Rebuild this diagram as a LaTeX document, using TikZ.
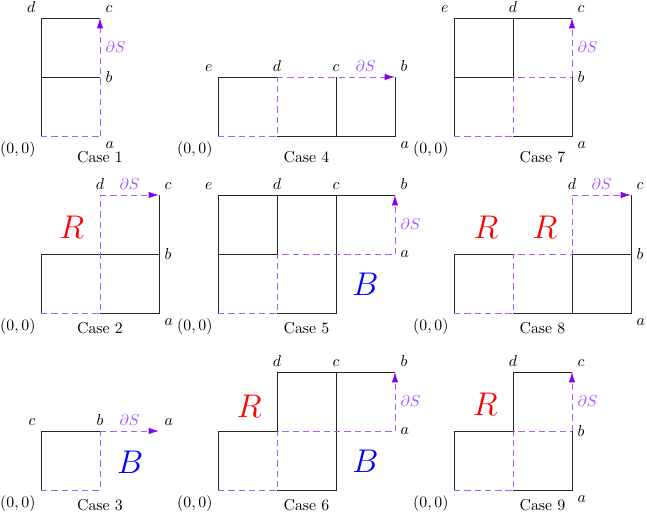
\documentclass[tikz,border=0pt]{standalone}
\usepackage{amsmath,amssymb}
\usepackage{tikz}
\usepackage{xcolor}
\usetikzlibrary{arrows.meta}
\definecolor{bdry}{RGB}{128,0,255}

\begin{document}
\begin{tikzpicture}[x=1.31cm,y=1.31cm,
  edge/.style={black!85,line width=0.5pt},
  bd/.style={dash pattern=on 4pt off 2.5pt,draw=bdry!65,line width=0.5pt},
  bdarrow/.style={bd,-{Latex[color=bdry,length=6.5pt,width=4pt]}},
  dS/.style={text=bdry!70},
  red set/.style={text=red,font=\huge},
  blue set/.style={text=blue,font=\huge}]
  \useasboundingbox (-0.695,-6.407) rectangle (10.271,2.305);

  % Case 1
  \begin{scope}
    \draw[edge] (0,0) -- (0,2) -- (1,2) (0,1) -- (1,1);
    \draw[bd] (0,0) -- (1,0);
    \draw[bdarrow] (1,0) -- (1,2);
    \node[below left] (o1) at (0,0) {$(0,0)$};
    \node[below right] (a1) at (1,0) {$a$};
    \node[right] (b1) at (1,1) {$b$};
    \node[above right] (c1) at (1,2) {$c$};
    \node[above left] (d1) at (0,2) {$d$};
    \node[right,dS] (s1) at (1,1.5) {$\partial S$};
    \node (case1) at (1,-0.36) {Case 1};
  \end{scope}

  % Case 4
  \begin{scope}[shift={(3,0)}]
    \draw[edge] (1,0) -- (3,0) -- (3,1) (2,0) -- (2,1) (1,1) -- (0,1) -- (0,0);
    \draw[bd] (0,0) -- (1,0) -- (1,1);
    \draw[bdarrow] (1,1) -- (3,1);
    \node[below left] (o4) at (0,0) {$(0,0)$};
    \node[below right] (a4) at (3,0) {$a$};
    \node[above right] (b4) at (3,1) {$b$};
    \node[above] (c4) at (2,1) {$c$};
    \node[above] (d4) at (1,1) {$d$};
    \node[above left] (e4) at (0,1) {$e$};
    \node[above,dS] (s4) at (2.5,1) {$\partial S$};
    \node (case4) at (1.5,-0.36) {Case 4};
  \end{scope}

  % Case 7
  \begin{scope}[shift={(7,0)}]
    \draw[edge] (1,0) -- (2,0) -- (2,1) (0,0) -- (0,2) -- (2,2) (1,2) -- (1,1) -- (0,1);
    \draw[bd] (0,0) -- (1,0) -- (1,1) -- (2,1);
    \draw[bdarrow] (2,1) -- (2,2);
    \node[below left] (o7) at (0,0) {$(0,0)$};
    \node[below right] (a7) at (2,0) {$a$};
    \node[right] (b7) at (2,1) {$b$};
    \node[above right] (c7) at (2,2) {$c$};
    \node[above] (d7) at (1,2) {$d$};
    \node[above left] (e7) at (0,2) {$e$};
    \node[right,dS] (s7) at (2,1.5) {$\partial S$};
    \node (case7) at (1.5,-0.36) {Case 7};
  \end{scope}

  % Case 2
  \begin{scope}[shift={(0,-3)}]
    \draw[edge] (0,0) -- (0,1) -- (2,1) (1,0) -- (2,0) -- (2,2);
    \draw[bd] (0,0) -- (1,0) -- (1,2);
    \draw[bdarrow] (1,2) -- (2,2);
    \node[below left] (o2) at (0,0) {$(0,0)$};
    \node[below right] (a2) at (2,0) {$a$};
    \node[right] (b2) at (2,1) {$b$};
    \node[above right] (c2) at (2,2) {$c$};
    \node[above] (d2) at (1,2) {$d$};
    \node[above,dS] (s2) at (1.5,2) {$\partial S$};
    \node[red set] (r2) at (0.52,1.45) {$R$};
    \node (case2) at (1,-0.25) {Case 2};
  \end{scope}

  % Case 5
  \begin{scope}[shift={(3,-3)}]
    \draw[edge] (0,0) -- (0,2) -- (3,2) (0,1) -- (1,1) -- (1,2) (1,0) -- (2,0) -- (2,2);
    \draw[bd] (0,0) -- (1,0) -- (1,1) -- (3,1);
    \draw[bdarrow] (3,1) -- (3,2);
    \node[below left] (o5) at (0,0) {$(0,0)$};
    \node[right] (a5) at (3,1) {$a$};
    \node[above right] (b5) at (3,2) {$b$};
    \node[above] (c5) at (2,2) {$c$};
    \node[above] (d5) at (1,2) {$d$};
    \node[above left] (e5) at (0,2) {$e$};
    \node[right,dS] (s5) at (3,1.5) {$\partial S$};
    \node[blue set] (bb5) at (2.5,0.49) {$B$};
    \node (case5) at (1.5,-0.25) {Case 5};
  \end{scope}

  % Case 8
  \begin{scope}[shift={(7,-3)}]
    \draw[edge] (0,0) -- (0,1) -- (1,1) (2,1) -- (3,1) (1,0) -- (3,0) -- (3,2) (2,0) -- (2,1);
    \draw[bd] (0,0) -- (1,0) -- (1,1) -- (2,1) -- (2,2);
    \draw[bdarrow] (2,2) -- (3,2);
    \node[below left] (o8) at (0,0) {$(0,0)$};
    \node[below right] (a8) at (3,0) {$a$};
    \node[right] (b8) at (3,1) {$b$};
    \node[above right] (c8) at (3,2) {$c$};
    \node[above] (d8) at (2,2) {$d$};
    \node[above,dS] (s8) at (2.5,2) {$\partial S$};
    \node[red set] (r8) at (0.54,1.46) {$R$};
    \node[red set] (rr8) at (1.54,1.46) {$R$};
    \node (case8) at (1.5,-0.25) {Case 8};
  \end{scope}

  % Case 3
  \begin{scope}[shift={(0,-6)}]
    \draw[edge] (0,0) -- (0,1) -- (1,1);
    \draw[bd] (0,0) -- (1,0) -- (1,1);
    \draw[bdarrow] (1,1) -- (2,1);
    \node[below left] (o3) at (0,0) {$(0,0)$};
    \node[above right] (a3) at (2,1) {$a$};
    \node[above] (b3) at (1,1) {$b$};
    \node[above left] (c3) at (0,1) {$c$};
    \node[above,dS] (s3) at (1.5,1) {$\partial S$};
    \node[blue set] (bb3) at (1.51,0.47) {$B$};
    \node (case3) at (1,-0.25) {Case 3};
  \end{scope}

  % Case 6
  \begin{scope}[shift={(3,-6)}]
    \draw[edge] (0,0) -- (0,1) -- (1,1) -- (1,2) -- (3,2) (1,0) -- (2,0) -- (2,2);
    \draw[bd] (0,0) -- (1,0) -- (1,1) -- (3,1);
    \draw[bdarrow] (3,1) -- (3,2);
    \node[below left] (o6) at (0,0) {$(0,0)$};
    \node[right] (a6) at (3,1) {$a$};
    \node[above right] (b6) at (3,2) {$b$};
    \node[above] (c6) at (2,2) {$c$};
    \node[above] (d6) at (1,2) {$d$};
    \node[right,dS] (s6) at (3,1.5) {$\partial S$};
    \node[red set] (r6) at (0.53,1.42) {$R$};
    \node[blue set] (bb6) at (2.5,0.49) {$B$};
    \node (case6) at (1.5,-0.25) {Case 6};
  \end{scope}

  % Case 9
  \begin{scope}[shift={(7,-6)}]
    \draw[edge] (0,0) -- (0,1) -- (1,1) -- (1,2) -- (2,2) (1,0) -- (2,0) -- (2,1);
    \draw[bd] (0,0) -- (1,0) -- (1,1) -- (2,1);
    \draw[bdarrow] (2,1) -- (2,2);
    \node[below left] (o9) at (0,0) {$(0,0)$};
    \node[below right] (a9) at (2,0) {$a$};
    \node[right] (b9) at (2,1) {$b$};
    \node[above right] (c9) at (2,2) {$c$};
    \node[above] (d9) at (1,2) {$d$};
    \node[right,dS] (s9) at (2,1.5) {$\partial S$};
    \node[red set] (r9) at (0.53,1.45) {$R$};
    \node (case9) at (1.5,-0.25) {Case 9};
  \end{scope}
\end{tikzpicture}
\end{document}
